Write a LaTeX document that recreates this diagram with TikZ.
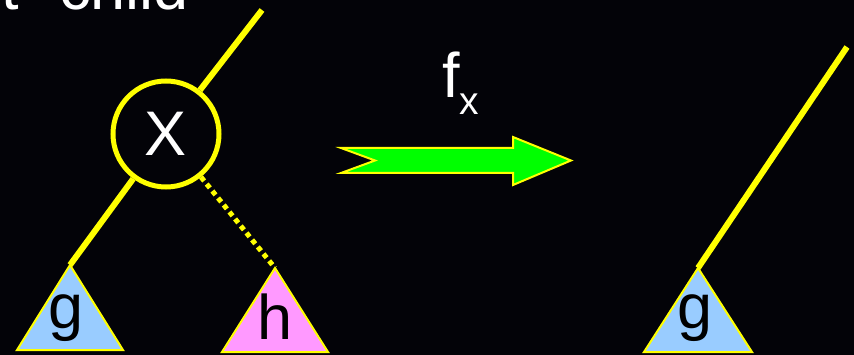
\documentclass[tikz,border=0pt]{standalone}
\usepackage{fontspec}
\setmainfont{Liberation Sans}
\usepackage{xcolor}
\definecolor{slideblack}{RGB}{3,3,8}
\definecolor{treeyellow}{RGB}{255,255,0}
\definecolor{subblue}{RGB}{153,204,255}
\definecolor{subpink}{RGB}{255,153,255}
\definecolor{arrowgreen}{RGB}{0,255,0}
\usetikzlibrary{positioning,calc}
\newcommand{\slidefont}{\fontsize{63}{70}\selectfont}
\newcommand{\subfont}{\fontsize{39}{42}\selectfont}
\tikzset{
  keynode/.style ={circle,draw=treeyellow,line width=5pt,minimum size=106pt,
                   inner sep=0pt,text=white,font=\slidefont},
  branch/.style  ={draw=treeyellow,line width=6pt},
  cut/.style     ={draw=treeyellow,line width=5pt,dash pattern=on 5pt off 4pt},
  subtree/.style ={draw=treeyellow,line width=2pt,line join=miter},
  leaflabel/.style={anchor=base,inner sep=0pt,text=black,font=\slidefont},
  bigarrow/.style={draw=treeyellow,line width=2pt,fill=arrowgreen,line join=miter},
}
\begin{document}
\begin{tikzpicture}[x=1pt,y=-1pt]
  \useasboundingbox (0,0) rectangle (854,355);
  \fill[slideblack] (0,0) rectangle (854,355);
  % title, cut off by the slide edge
  \node[anchor=base east,inner sep=0pt,text=white,font=\slidefont] (title) at (189,9.5)
    {left\hspace{40pt}child};
  % before: node x with its two subtrees
  \node[keynode] (x) at (166,134) {X};
  \coordinate (up)   at (262,10);
  \coordinate (gtop) at (70,265);
  \coordinate (htop) at (275,268);
  \draw[branch] (up) -- (x);
  \draw[branch] (x) -- (gtop);
  \draw[cut] (x) -- (htop);
  \draw[subtree,fill=subblue] (gtop) -- ++(53,85) -- ++(-106,0) -- cycle;
  \draw[subtree,fill=subpink] (htop) -- ++(53,84) -- ++(-106,0) -- cycle;
  \node[leaflabel] (g) at (66,328) {g};
  \node[leaflabel] (h) at (275,339) {h};
  % the transformation
  \draw[bigarrow] (341,148) -- (513,148) -- (513,137) -- (571,160.5) -- (513,185)
    -- (513,173) -- (341,173) -- (375,160.5) -- cycle;
  \node[anchor=base west,inner sep=0pt,text=white,font=\slidefont] (fx) at (442,98)
    {f\raisebox{-17pt}{\subfont x}};
  % after: g takes the place of x
  \coordinate (rup)   at (847,47);
  \coordinate (rgtop) at (698,268);
  \draw[branch] (rup) -- (rgtop);
  \draw[subtree,fill=subblue] (rgtop) -- ++(54,84) -- ++(-108,0) -- cycle;
  \node[leaflabel] (rg) at (695,328) {g};
\end{tikzpicture}
\end{document}
